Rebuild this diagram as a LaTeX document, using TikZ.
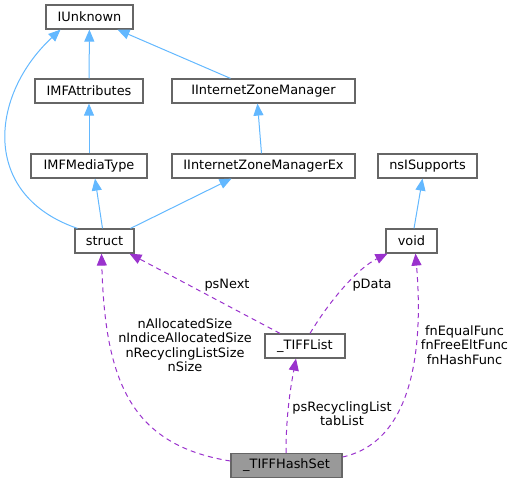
\documentclass[tikz,border=0pt]{standalone}
\usepackage{fontspec}
\setmainfont{DejaVu Sans}
\usepackage{tikz}
\usetikzlibrary{arrows.meta}
\usepackage{xcolor}
\definecolor{DoxyBlue}{HTML}{63B8FF}
\definecolor{DoxyPurple}{HTML}{9A32CD}
\definecolor{DoxyBorder}{HTML}{666666}
\definecolor{DoxyFocus}{HTML}{999999}
\definecolor{DoxyWhite}{HTML}{ffffff}
\tikzset{
    % Box styles
    classbox/.style={
        rectangle,
        draw=DoxyBorder,
        fill=DoxyWhite,
        line width=1.2pt,
        minimum width=60pt,
        minimum height=24pt,
        inner sep=2pt,
        align=center,
        font=\fontsize{12.9}{14.5}\selectfont
    },
    focusbox/.style={
        classbox,
        fill=DoxyFocus
    },
    edgelabel/.style={
        inner sep=0pt,
        align=center,
        font=\fontsize{12.9}{14.5}\selectfont
    },
    % Arrow styles
    inheritarrow/.style={
        -{Triangle[length=12pt,width=10pt]},
        line width=1pt,
        draw=DoxyBlue
    },
    usagearrow/.style={
        -{Triangle[length=12pt,width=10pt]},
        line width=1pt,
        draw=DoxyPurple,
        dash pattern=on 5pt off 4pt
    }
}
\begin{document}
\begin{tikzpicture}[x=1pt, y=-1pt]
    \useasboundingbox (0,0) rectangle (516,484);

    \node[classbox, minimum width=87pt] (iunknown) at (89.5,17) {IUnknown};
    \node[classbox, minimum width=108pt] (imfattr) at (89,91) {IMFAttributes};
    \node[classbox, minimum width=183pt] (izm) at (263.5,91) {IInternetZoneManager};
    \node[classbox, minimum width=116pt] (imfmedia) at (89,166) {IMFMediaType};
    \node[classbox, minimum width=183pt] (izmex) at (263.5,166) {IInternetZoneManagerEx};
    \node[classbox, minimum width=99pt] (nsisup) at (427.5,166) {nsISupports};
    \node[classbox, minimum width=59pt] (struct) at (104.5,241) {struct};
    \node[classbox, minimum width=51pt] (void) at (411.5,241) {void};
    \node[classbox, minimum width=80pt] (tifflist) at (305,346) {\_TIFFList};
    \node[focusbox, minimum width=111pt] (hashset) at (286.5,465.5) {\_TIFFHashSet};

    % inheritance
    \draw[inheritarrow] (imfattr) -- (iunknown);
    \draw[inheritarrow] ([xshift=-33pt]izm.north) -- ([xshift=28pt]iunknown.south);
    \draw[inheritarrow] ([xshift=-27pt]struct.north) .. controls (-20,195) and (-10,95) .. ([xshift=-29pt]iunknown.south);
    \draw[inheritarrow] (imfmedia) -- (imfattr);
    \draw[inheritarrow] ([xshift=-2pt]struct.north) -- ([xshift=6pt]imfmedia.south);
    \draw[inheritarrow] ([xshift=26pt]struct.north) -- ([xshift=-32pt]izmex.south);
    \draw[inheritarrow] ([xshift=-2pt]izmex.north) -- ([xshift=-6pt]izm.south);
    \draw[inheritarrow] ([xshift=2.5pt]void.north) -- ([xshift=-5pt]nsisup.south);

    % members
    \draw[usagearrow] ([xshift=-25pt]tifflist.north) -- ([xshift=25pt]struct.south);
    \draw[usagearrow] ([xshift=5pt]tifflist.north) .. controls (330,300) and (358,268) .. ([xshift=-24pt]void.south);
    \draw[usagearrow] ([yshift=4.5pt]hashset.west) .. controls (130,445) and (105,380) .. ([xshift=-3pt]struct.south);
    \draw[usagearrow] ([xshift=-0.5pt]hashset.north) .. controls (286,410) and (292,380) .. ([xshift=-9pt]tifflist.south);
    \draw[usagearrow] ([yshift=8.5pt]hashset.east) .. controls (420,440) and (422,330) .. ([xshift=4pt]void.south);

    \node[edgelabel] (lblnext) at (227,285) {psNext};
    \node[edgelabel] (lbldata) at (372,285) {pData};
    \node[edgelabel] (lblsize) at (185,345) {nAllocatedSize\\nIndiceAllocatedSize\\nRecyclingListSize\\nSize};
    \node[edgelabel] (lbllist) at (342,413.5) {psRecyclingList\\tabList};
    \node[edgelabel] (lblfunc) at (464.5,345) {fnEqualFunc\\fnFreeEltFunc\\fnHashFunc};
\end{tikzpicture}
\end{document}
